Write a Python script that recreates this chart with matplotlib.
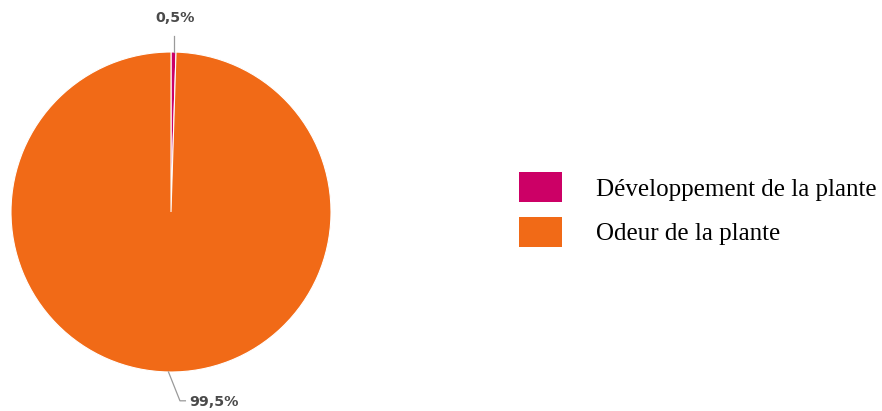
import matplotlib
matplotlib.use("Agg")
import matplotlib.pyplot as plt
import numpy as np
from matplotlib.patches import Patch

categories = ["Développement de la plante", "Odeur de la plante"]
shares = [0.5, 99.5]
labels = ["0,5%", "99,5%"]
colors = ["#CC0066", "#F16A17"]

W, H = 882, 411
fig = plt.figure(figsize=(W / 100, H / 100), dpi=100)

# pie centred at (171, 212) px, radius 160 px
cx, cy, r = 171, 212, 160
ax = fig.add_axes([(cx - r) / W, (H - cy - r) / H, 2 * r / W, 2 * r / H])
wedges, _ = ax.pie(shares, colors=colors, startangle=90, counterclock=False,
                   wedgeprops=dict(edgecolor="white", linewidth=0.8))
ax.set_xlim(-1, 1)
ax.set_ylim(-1, 1)
ax.set_aspect("equal")

lab_style = dict(fontsize=10.3, fontweight="bold", color="#4a4a4a",
                 family="DejaVu Sans")
line_style = dict(color="#9a9a9a", lw=0.9, clip_on=False)

# leader lines from each wedge's mid-angle on the rim
w0, w1 = wedges
a0 = np.deg2rad((w0.theta1 + w0.theta2) / 2)
x0, y0 = np.cos(a0), np.sin(a0)
ax.plot([x0, x0], [y0, 1.1], **line_style)
ax.text(x0 + 0.01, 1.21, labels[0], ha="center", va="center", **lab_style)

a1 = np.deg2rad((w1.theta1 + w1.theta2) / 2)
x1, y1 = np.cos(a1), np.sin(a1)
ax.plot([x1, 0.056, 0.09], [y1, -1.18, -1.18], **line_style)
ax.text(0.115, -1.19, labels[1], ha="left", va="center", **lab_style)

# legend: visible patch height = fs * (0.65 * hh + 0.245)
fs = 18
px = fs * 100 / 72
hh = (30 / px - 0.245) / 0.65
handles = [Patch(facecolor=c, edgecolor="none") for c in colors]
fig.legend(handles, categories, loc="center left",
           bbox_to_anchor=(519 / W, (H - 209.5) / H),
           frameon=False, borderpad=0, borderaxespad=0,
           handlelength=43 / px, handleheight=hh,
           handletextpad=34 / px, labelspacing=(51 - hh * px) / px,
           prop=dict(family="Liberation Serif", size=fs))

fig.savefig("out.png", dpi=100)
